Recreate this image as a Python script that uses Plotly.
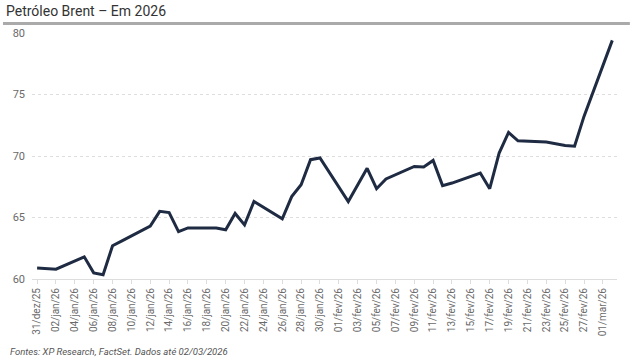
import plotly.graph_objects as go
import pandas as pd

# Data (business days), Brent price USD/bbl
dates = [
    "2025-12-31", "2026-01-02", "2026-01-05", "2026-01-06", "2026-01-07", "2026-01-08",
    "2026-01-09", "2026-01-12", "2026-01-13", "2026-01-14", "2026-01-15", "2026-01-16",
    "2026-01-19", "2026-01-20", "2026-01-21", "2026-01-22", "2026-01-23", "2026-01-26",
    "2026-01-27", "2026-01-28", "2026-01-29", "2026-01-30", "2026-02-02", "2026-02-03",
    "2026-02-04", "2026-02-05", "2026-02-06", "2026-02-09", "2026-02-10", "2026-02-11",
    "2026-02-12", "2026-02-13", "2026-02-16", "2026-02-17", "2026-02-18", "2026-02-19",
    "2026-02-20", "2026-02-23", "2026-02-24", "2026-02-25", "2026-02-26", "2026-02-27",
    "2026-03-02",
]
brent = [
    60.90, 60.80, 61.80, 60.50, 60.35, 62.70,
    63.10, 64.30, 65.50, 65.40, 63.85, 64.15,
    64.15, 64.00, 65.33, 64.40, 66.30, 64.90,
    66.70, 67.67, 69.70, 69.84, 66.30, 67.65,
    69.00, 67.34, 68.13, 69.15, 69.10, 69.64,
    67.59, 67.80, 68.62, 67.34, 70.24, 71.92,
    71.24, 71.14, 71.00, 70.86, 70.80, 73.22,
    79.40,
]

# Tick labels (every 2 days), Portuguese month abbreviations
month_pt = {1: "jan", 2: "fev", 3: "mar", 12: "dez"}
tick_dates = pd.date_range("2025-12-31", "2026-03-01", freq="2D")
tick_labels = [f"{d.day:02d}/{month_pt[d.month]}/{d.strftime('%y')}" for d in tick_dates]
y_ticks = [60, 65, 70, 75, 80]

title_text = "Petróleo Brent – Em 2026"
source_text = "Fontes: XP Research, FactSet. Dados até 02/03/2026"

FONT = "Roboto, 'Open Sans', Arial, sans-serif"

fig = go.Figure()
fig.add_trace(go.Scatter(
    x=pd.to_datetime(dates), y=brent, mode="lines",
    line=dict(color="#1e2b42", width=3),
    hoverinfo="x+y", showlegend=False,
))

fig.update_layout(
    width=640, height=360,
    margin=dict(l=32, r=23, t=33, b=81),
    paper_bgcolor="white", plot_bgcolor="white",
    font=dict(family=FONT, color="#555555"),
    xaxis=dict(
        type="date",
        range=["2025-12-30 11:00", "2026-03-02 12:00"],
        tickvals=list(tick_dates), ticktext=tick_labels,
        tickangle=-90, tickfont=dict(size=10, color="#6a6a6a"),
        showgrid=False, showline=True, linecolor="#dddddd", linewidth=1,
        ticks="outside", ticklen=4, tickcolor="#dddddd",
        zeroline=False, automargin=False,
    ),
    yaxis=dict(
        range=[60, 80], tickvals=y_ticks,
        tickfont=dict(size=11, color="#6a6a6a"),
        showgrid=True, gridcolor="#dedede", griddash="dot", gridwidth=1,
        showline=False, zeroline=False, ticks="", ticklabelstandoff=6,
        automargin=False,
    ),
    shapes=[dict(
        type="line", xref="paper", yref="paper",
        x0=-0.0496, x1=1.022, y0=1.039, y1=1.039,
        line=dict(color="#aaaaaa", width=3),
    )],
    annotations=[
        dict(text=title_text, xref="paper", yref="paper", x=-0.048, y=1.089,
             xanchor="left", yanchor="middle", showarrow=False,
             font=dict(family=FONT, size=14, color="#333333")),
        dict(text="<i>" + source_text + "</i>", xref="paper", yref="paper",
             x=-0.041, y=-0.2955, xanchor="left", yanchor="middle", showarrow=False,
             font=dict(family=FONT, size=9.5, color="#555555")),
    ],
)

fig.write_html(
    "out.html",
    config={"displayModeBar": False},
    post_script="document.body.style.margin='0';document.body.style.overflow='hidden';",
)
